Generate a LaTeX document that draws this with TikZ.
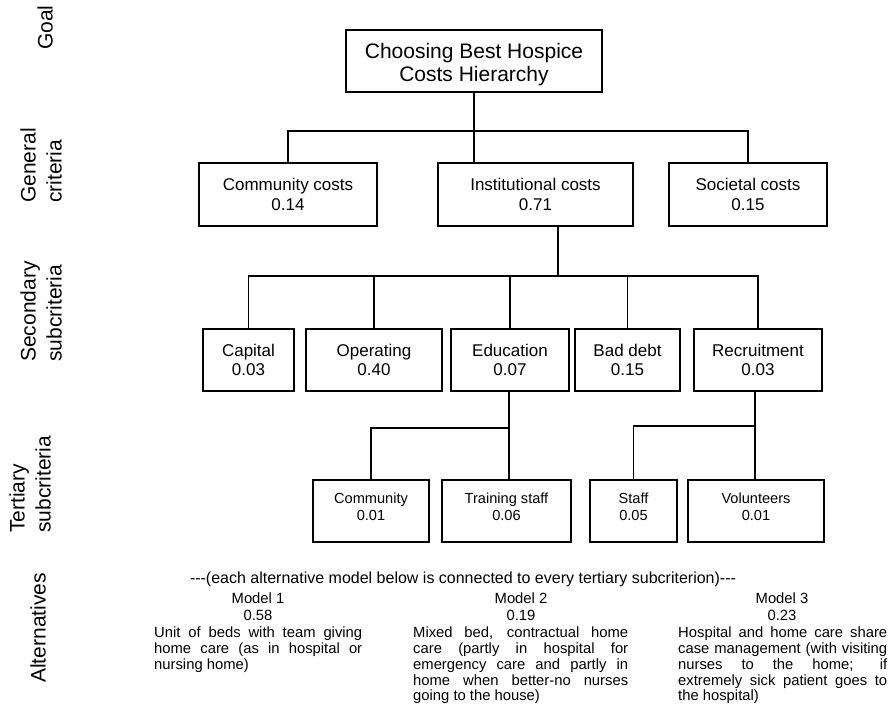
\documentclass[tikz,border=0pt]{standalone}
\usepackage{fontspec}
\setmainfont{Liberation Sans}
% a line of text spread to a given width
\newcommand\jl[2]{\makebox[#1][s]{#2}}
% two centred lines, moved down by a given amount without changing their size
\newcommand\twolines[3]{\raisebox{-#1}[\height][\depth]{\begin{tabular}{@{}c@{}}#2\\#3\end{tabular}}}
\begin{document}
\begin{tikzpicture}[x=1pt,y=-1pt,
  box/.style={draw, line width=1.5pt, inner sep=0pt, outer sep=0pt, align=center},
  goalbox/.style={box, minimum height=62, font=\fontsize{21}{23}\selectfont},
  genbox/.style={box, minimum height=63, font=\fontsize{17}{20}\selectfont},
  secbox/.style={box, minimum height=62, font=\fontsize{17}{19.5}\selectfont},
  terbox/.style={box, minimum height=62, font=\fontsize{14.6}{17}\selectfont},
  link/.style={line width=1.3pt},
  side/.style={rotate=90, anchor=west, align=left, inner sep=0pt, font=\fontsize{21}{26}\selectfont},
  alt/.style={inner sep=0pt, font=\fontsize{14.8}{15.7}\selectfont},
]
\useasboundingbox (0,0) rectangle (891,710);

% level labels, each starting at its lower end
\node[side] (lgoal) at (45,50) {Goal};
\node[side] (lgen) at (41,203) {General\\criteria};
\node[side] (lsec) at (41,362) {Secondary\\subcriteria};
\node[side] (lter) at (30,533) {Tertiary\\subcriteria};
\node[side] (lalt) at (38,683) {Alternatives};

% goal
\node[goalbox, minimum width=256] (goal) at (474,61)
  {\twolines{4pt}{Choosing Best Hospice}{Costs Hierarchy}};

% general criteria
\node[genbox, minimum width=178] (comm) at (288,194.5) {Community costs\\0.14};
\node[genbox, minimum width=195] (inst) at (535.5,194.5) {Institutional costs\\0.71};
\node[genbox, minimum width=158] (soc) at (748,194.5) {Societal costs\\0.15};

% secondary subcriteria
\node[secbox, minimum width=91] (cap) at (248.5,360) {Capital\\0.03};
\node[secbox, minimum width=136] (oper) at (374,360) {Operating\\0.40};
\node[secbox, minimum width=118] (edu) at (510,360) {Education\\0.07};
\node[secbox, minimum width=105] (bad) at (627.5,360) {Bad debt\\0.15};
\node[secbox, minimum width=128] (recr) at (758,360) {Recruitment\\0.03};

% tertiary subcriteria
\node[terbox, minimum width=116] (tcom) at (371,511) {\twolines{-2pt}{Community}{0.01}};
\node[terbox, minimum width=129] (train) at (506.5,511) {\twolines{-2pt}{Training staff}{0.06}};
\node[terbox, minimum width=87] (staff) at (633.5,511) {\twolines{-2pt}{Staff}{0.05}};
\node[terbox, minimum width=136] (vol) at (756,511) {\twolines{-2pt}{Volunteers}{0.01}};

% connectors: goal to general criteria
\coordinate (bar1) at (474,131);
\draw[link] (goal.south) -- (goal.south |- inst.north);
\draw[link] (comm.north) |- (bar1) -| (soc.north);

% institutional costs to secondary subcriteria
\coordinate (bar2) at (558,276);
\draw[link] (inst.south -| bar2) -- (bar2);
\draw[link] (cap.north) |- (bar2) -| (recr.north);
\draw[link] (oper.north) -- (oper.north |- bar2);
\draw[link] (edu.north) -- (edu.north |- bar2);
\draw[link] (bad.north) -- (bad.north |- bar2);

% education and recruitment to tertiary subcriteria
\coordinate (bar3) at (509,428);
\draw[link] (edu.south -| bar3) -- (train.north -| bar3);
\draw[link] (tcom.north) |- (bar3);
\coordinate (bar4) at (755,426);
\draw[link] (recr.south -| bar4) -- (vol.north -| bar4);
\draw[link] (staff.north) |- (bar4);

% alternatives
\node[inner sep=0pt, font=\fontsize{16}{18}\selectfont] (note) at (463,579)
  {-\kern0pt-\kern0pt-(each alternative model below is connected to every tertiary subcriterion)-\kern0pt-\kern0pt-};

\node[alt] (m1) at (258,598) {Model 1};
\node[alt] (w1) at (258,615) {0.58};
\node[alt] (m2) at (521,598) {Model 2};
\node[alt] (w2) at (521,615) {0.19};
\node[alt] (m3) at (782,598) {Model 3};
\node[alt] (w3) at (782,615) {0.23};

\node[alt, anchor=north west, align=left] (d1) at (154,627)
  {\jl{208pt}{Unit of beds with team giving}\\
   \jl{208pt}{home care (as in hospital or}\\
   nursing home)};
\node[alt, anchor=north west, align=left] (d2) at (413,627)
  {\jl{215pt}{Mixed bed, contractual home}\\
   \jl{215pt}{care (partly in hospital for}\\
   \jl{215pt}{emergency care and partly in}\\
   \jl{215pt}{home when better-no nurses}\\
   going to the house)};
\node[alt, anchor=north west, align=left] (d3) at (678,627)
  {\jl{209pt}{Hospital and home care share}\\
   \jl{209pt}{case management (with visiting}\\
   \jl{209pt}{nurses to the home; if}\\
   \jl{209pt}{extremely sick patient goes to}\\
   the hospital)};
\end{tikzpicture}
\end{document}
